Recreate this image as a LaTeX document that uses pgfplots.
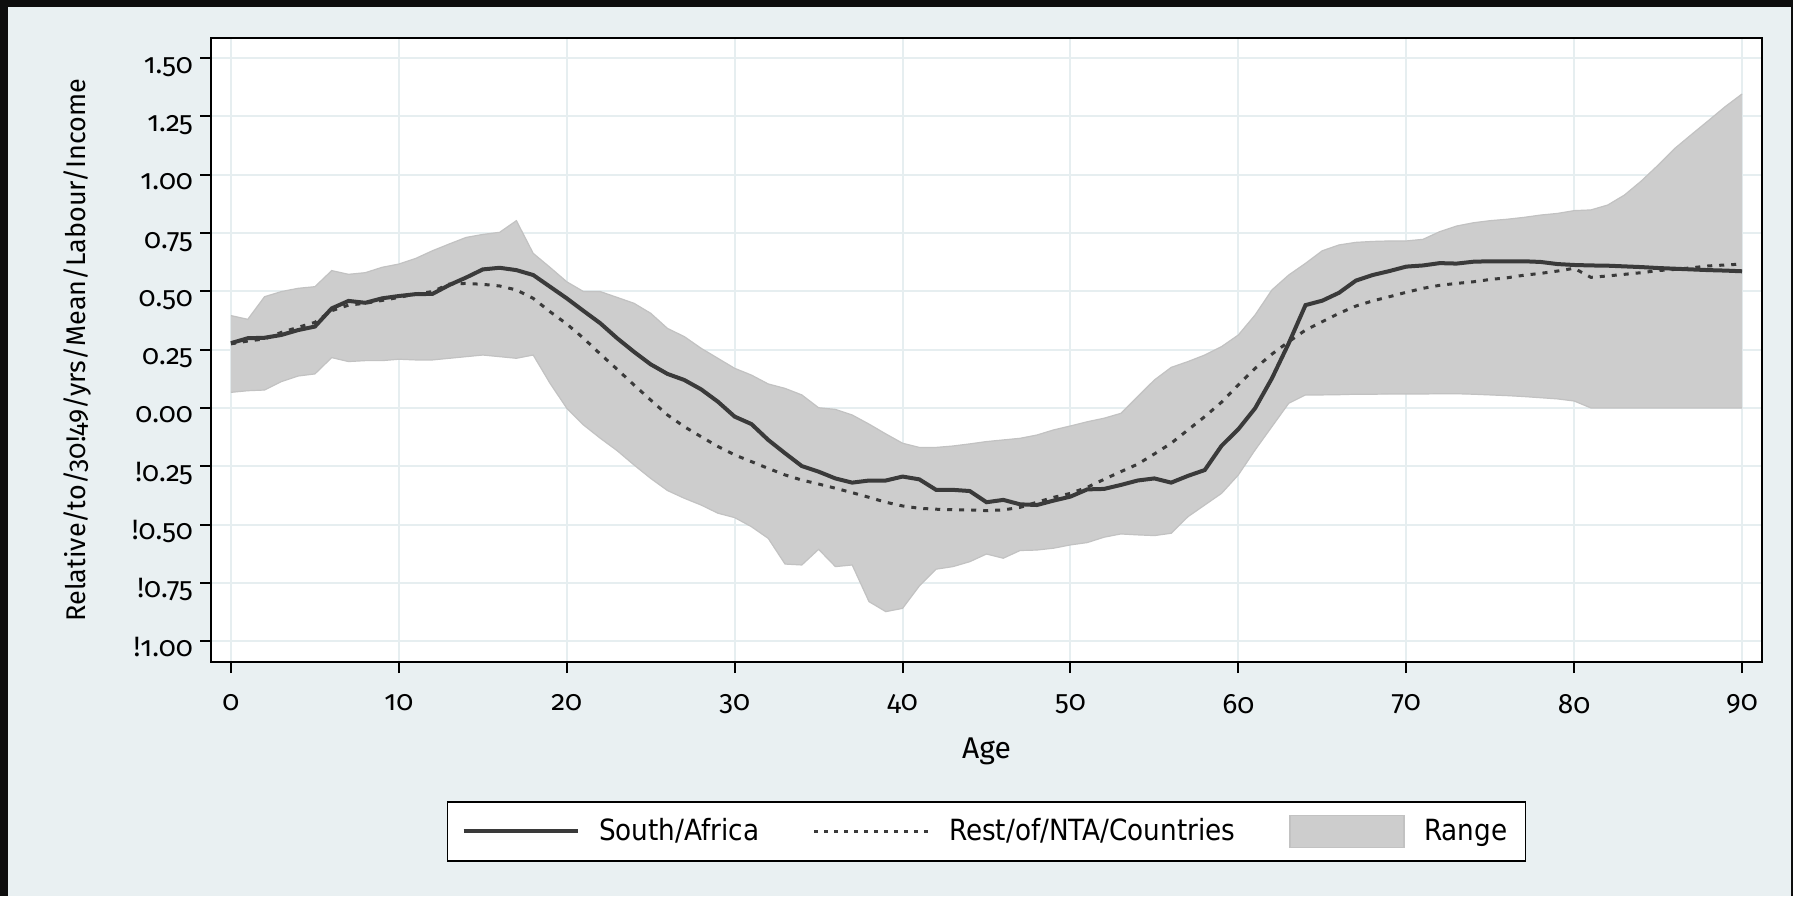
\documentclass[border=0pt]{standalone}
\usepackage{fontspec}
\setmainfont{Fira Sans}[Numbers=OldStyle]
\newfontfamily\legfont{DejaVu Sans Condensed}
\usepackage{pgfplots}
\usepackage{pgfplotstable}
\pgfplotsset{compat=1.18}
\usepgfplotslibrary{fillbetween}
\definecolor{outer}{HTML}{0E0E0E}
\definecolor{panel}{HTML}{E9F0F2}
\definecolor{gridc}{HTML}{E6EEF0}
\definecolor{rangec}{HTML}{CDCDCD}
\definecolor{rangeedge}{HTML}{C2C2C2}
\definecolor{linec}{HTML}{3A3A3A}
\pagecolor{panel}
\pgfplotsset{
  longline/.style={legend image code/.code={\draw[##1] (0pt,0pt) -- (57pt,0pt);}},
  longpatch/.style={legend image code/.code={\draw[##1] (0pt,-8pt) rectangle (57pt,8pt);}},
}
\pgfplotstableread{
age sa rest up lo
0 0.278 0.275 0.396 0.067
1 0.299 0.287 0.380 0.074
2 0.301 0.296 0.477 0.077
3 0.313 0.324 0.499 0.113
4 0.334 0.346 0.513 0.137
5 0.349 0.367 0.520 0.146
6 0.427 0.417 0.589 0.216
7 0.459 0.441 0.573 0.199
8 0.451 0.449 0.580 0.203
9 0.470 0.461 0.603 0.203
10 0.480 0.474 0.617 0.209
11 0.488 0.489 0.641 0.206
12 0.489 0.499 0.674 0.206
13 0.527 0.531 0.703 0.213
14 0.559 0.534 0.731 0.220
15 0.594 0.530 0.744 0.227
16 0.601 0.523 0.753 0.220
17 0.591 0.506 0.803 0.213
18 0.570 0.470 0.663 0.227
19 0.520 0.413 0.603 0.106
20 0.470 0.360 0.541 -0.001
21 0.416 0.299 0.499 -0.073
22 0.363 0.231 0.499 -0.130
23 0.299 0.166 0.474 -0.183
24 0.241 0.099 0.449 -0.244
25 0.187 0.034 0.406 -0.302
26 0.146 -0.030 0.341 -0.354
27 0.120 -0.080 0.306 -0.387
28 0.080 -0.123 0.256 -0.416
29 0.027 -0.165 0.213 -0.451
30 -0.037 -0.201 0.170 -0.470
31 -0.069 -0.230 0.141 -0.509
32 -0.137 -0.259 0.103 -0.559
33 -0.194 -0.287 0.084 -0.669
34 -0.249 -0.309 0.056 -0.673
35 -0.273 -0.326 0.001 -0.606
36 -0.302 -0.344 -0.006 -0.680
37 -0.320 -0.363 -0.030 -0.673
38 -0.311 -0.383 -0.069 -0.830
39 -0.311 -0.404 -0.111 -0.873
40 -0.294 -0.420 -0.151 -0.859
41 -0.306 -0.430 -0.169 -0.763
42 -0.351 -0.434 -0.169 -0.691
43 -0.351 -0.436 -0.163 -0.680
44 -0.356 -0.437 -0.154 -0.659
45 -0.404 -0.440 -0.144 -0.626
46 -0.394 -0.437 -0.137 -0.644
47 -0.413 -0.426 -0.130 -0.611
48 -0.416 -0.404 -0.116 -0.609
49 -0.397 -0.383 -0.094 -0.601
50 -0.380 -0.366 -0.077 -0.587
51 -0.349 -0.340 -0.059 -0.577
52 -0.347 -0.306 -0.044 -0.554
53 -0.330 -0.273 -0.023 -0.540
54 -0.311 -0.241 0.049 -0.544
55 -0.302 -0.197 0.120 -0.547
56 -0.320 -0.151 0.174 -0.537
57 -0.291 -0.094 0.199 -0.466
58 -0.266 -0.037 0.227 -0.416
59 -0.162 0.025 0.263 -0.366
60 -0.091 0.099 0.313 -0.287
61 -0.001 0.170 0.399 -0.180
62 0.127 0.231 0.506 -0.080
63 0.277 0.284 0.570 0.020
64 0.441 0.334 0.620 0.056
65 0.460 0.370 0.674 0.056
66 0.494 0.406 0.699 0.057
67 0.546 0.437 0.710 0.059
68 0.570 0.459 0.714 0.059
69 0.587 0.477 0.716 0.060
70 0.606 0.496 0.716 0.060
71 0.611 0.513 0.723 0.060
72 0.621 0.526 0.756 0.061
73 0.619 0.534 0.780 0.061
74 0.627 0.541 0.794 0.059
75 0.629 0.551 0.803 0.056
76 0.629 0.558 0.809 0.053
77 0.629 0.569 0.817 0.049
78 0.626 0.577 0.827 0.044
79 0.617 0.587 0.834 0.039
80 0.613 0.599 0.846 0.030
81 0.611 0.560 0.849 0.000
82 0.610 0.566 0.870 0.000
83 0.607 0.573 0.913 0.000
84 0.604 0.580 0.973 0.000
85 0.600 0.589 1.041 0.000
86 0.597 0.594 1.113 0.000
87 0.594 0.601 1.173 0.000
88 0.591 0.609 1.232 0.000
89 0.589 0.613 1.292 0.000
90 0.586 0.617 1.346 0.000
}\data
\begin{document}%
\begin{tikzpicture}
\fill[outer] (0,0) rectangle (4pt,-448pt);
\fill[outer] (0,0) rectangle (896.5pt,-3.5pt);
\fill[outer] (895.5pt,0) rectangle (896.5pt,-448pt);
\begin{axis}[
  at={(105.5pt,-331pt)}, anchor=south west,
  scale only axis, width=775.5pt, height=312pt,
  xmin=-1.19, xmax=91.19, ymin=-1.089, ymax=1.586,
  xtick={0,10,...,90},
  xticklabels={0,10,20,30,40,50,60,70,80,90},
  ytick={-1,-0.75,-0.5,-0.25,0,0.25,0.5,0.75,1,1.25,1.5},
  yticklabels={!1.00,!0.75,!0.50,!0.25,0.00,0.25,0.50,0.75,1.00,1.25,1.50},
  tick align=outside, tick pos=left,
  major tick length=5.5pt,
  every tick/.style={black, line width=1pt},
  grid=major, major grid style={draw=gridc, line width=1pt},
  axis line style={line width=1pt, black},
  axis background/.style={fill=white},
  tick label style={font=\fontsize{14}{16}\selectfont},
  yticklabel style={anchor=base east, yshift=-7.5pt},
  xticklabel style={yshift=-7pt},
  label style={font=\fontsize{14}{16}\selectfont},
  xlabel={Age},
  ylabel={Relative/to/30!49/yrs/Mean/Labour/Income},
  xlabel style={at={(axis description cs:0.5,-0.1433)}, anchor=center, font=\fontsize{15}{17}\selectfont},
  ylabel style={at={(axis description cs:-0.0858,0.5)}, anchor=center, font=\fontsize{13.5}{16}\selectfont},
  legend columns=3,
  legend cell align=left,
  legend style={at={(0.5,-0.2228)}, anchor=north, draw=black, line width=0.75pt, fill=white,
    font=\legfont\fontsize{14.6}{17}\selectfont, inner xsep=7pt, inner ysep=6.5pt,
    /tikz/every odd column/.append style={column sep=7.8pt},
    /tikz/every even column/.append style={column sep=25pt}},
]
\addplot[name path=up, draw=rangeedge, line width=0.6pt, forget plot] table[x=age,y=up] {\data};
\addplot[name path=lo, draw=rangeedge, line width=0.6pt, forget plot] table[x=age,y=lo] {\data};
\addplot[fill=rangec, draw=none, forget plot] fill between[of=up and lo];
\addplot[linec, line width=1.5pt, dash pattern=on 2.5pt off 3.5pt, forget plot] table[x=age,y=rest] {\data};
\addplot[linec, line width=2pt, forget plot] table[x=age,y=sa] {\data};
\addlegendimage{longline, linec, line width=2pt}
\addlegendentry{South/Africa}
\addlegendimage{longline, linec, line width=1.2pt, dash pattern=on 2pt off 3pt}
\addlegendentry{Rest/of/NTA/Countries}
\addlegendimage{longpatch, fill=rangec, draw=rangeedge, line width=0.6pt}
\addlegendentry{Range}
\end{axis}
\pgfresetboundingbox
\useasboundingbox (0,0) rectangle (896.5pt,-448pt);
\end{tikzpicture}%
\end{document}
